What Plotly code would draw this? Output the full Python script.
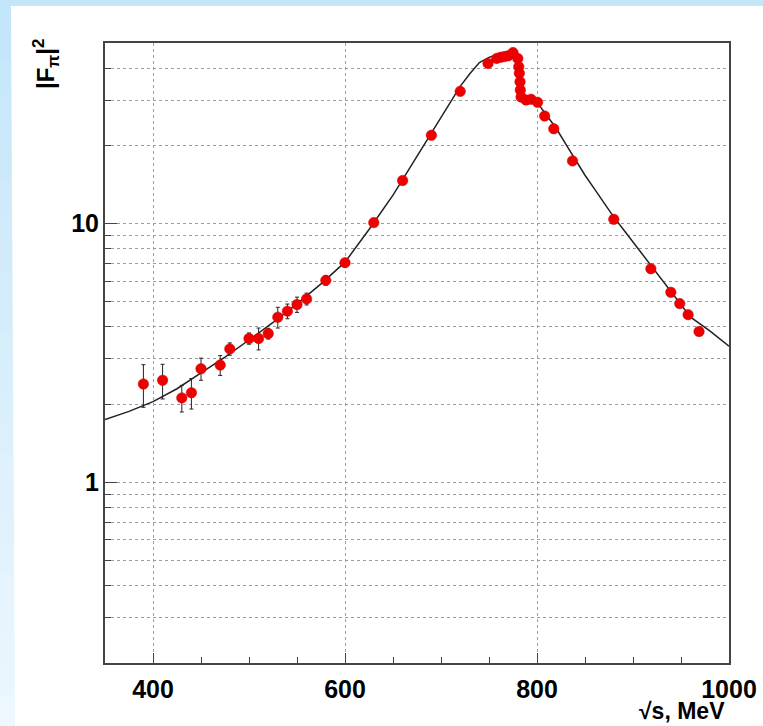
import plotly.graph_objects as go
import numpy as np

# ---- data ----
pt_x = [390, 410, 430, 440, 450, 470, 480, 500, 510, 520, 530, 540, 550, 560, 580,
        600, 630, 660, 690, 720, 749, 758, 762, 766, 770, 775, 780, 781, 781.6, 782.3,
        782.6, 783.4, 788.5, 793.8, 800.6, 808, 817.5, 837, 880, 918.6, 939.4, 948.7,
        957.4, 968.8]
pt_y = [2.40, 2.48, 2.12, 2.22, 2.75, 2.84, 3.28, 3.60, 3.60, 3.76, 4.35, 4.59, 4.87, 5.12, 6.04,
        7.07, 10.1, 14.7, 22.0, 32.5, 41.7, 43.6, 44.0, 44.3, 44.6, 45.9, 43.6, 40.5, 38.2, 35.4,
        32.9, 30.9, 30.1, 30.3, 29.5, 26.1, 23.3, 17.5, 10.4, 6.70, 5.43, 4.91,
        4.45, 3.83]
pt_err = [0.45, 0.38, 0.25, 0.30, 0.27, 0.25, 0.18, 0.18, 0.35, 0.18, 0.40, 0.30, 0.33, 0.27, 0.25,
          0.20, 0.20, 0.25, 0.30, 0.40, 0.40, 0.40, 0.40, 0.40, 0.40, 0.40, 0.40, 0.40, 0.40, 0.40,
          0.40, 0.40, 0.30, 0.30, 0.30, 0.30, 0.25, 0.20, 0.15, 0.10, 0.10, 0.10,
          0.10, 0.10]

curve_x = [350, 375, 400, 425, 450, 475, 500, 525, 550, 575, 600, 625, 650, 675, 700,
           710, 720, 730, 740, 750, 760, 770, 776, 779, 781, 783, 785, 790, 795, 800,
           810, 820, 830, 840, 850, 860, 870, 880, 890, 900, 920, 940, 960, 980, 1000]
curve_y = [1.75, 1.88, 2.05, 2.30, 2.65, 3.05, 3.55, 4.15, 4.90, 5.85, 7.10, 9.50, 12.9, 18.2, 25.7,
           29.5, 34.0, 38.0, 42.0, 44.0, 45.3, 45.8, 46.0, 45.0, 41.0, 35.0, 31.5, 30.8, 30.3, 29.5,
           26.3, 23.4, 20.3, 17.7, 15.4, 13.6, 12.0, 10.6, 9.5, 8.5, 6.75, 5.45, 4.35, 3.85, 3.36]

y_labels = [1, 10]
y_grid = [0.2, 0.3, 0.4, 0.5, 0.6, 0.7, 0.8, 0.9, 1, 2, 3, 4, 5, 6, 7, 8, 9, 10, 20, 30, 40, 50]

# ---- geometry ----
W, H = 763, 726
L, R, T, B = 105, 729, 43, 663
pw, ph = R - L, B - T


def px2x(px):
    return (px - L) / pw


def py2y(py):
    return (B - py) / ph


fig = go.Figure()

fig.add_trace(go.Scatter(x=curve_x, y=curve_y, mode="lines",
                         line=dict(color="#222222", width=1.5), hoverinfo="skip",
                         showlegend=False))
fig.add_trace(go.Scatter(x=pt_x, y=pt_y, mode="markers",
                         marker=dict(color="#ee0000", size=10.5, line=dict(color="#cc0000", width=0.5)),
                         error_y=dict(type="data", array=pt_err, color="#222222", thickness=1, width=2),
                         showlegend=False))

grid_col = "#9c9c9c"
tick_font = dict(size=25, weight="bold", family="Liberation Sans", color="black")
fig.update_layout(
    width=W, height=H,
    margin=dict(l=L, r=W - R, t=T, b=H - B, pad=0, autoexpand=False),
    paper_bgcolor="white", plot_bgcolor="white",
    font=dict(family="Liberation Sans", color="black"),
    xaxis=dict(range=[350, 1000], tickmode="linear", tick0=400, dtick=200,
               ticks="inside", ticklen=10, tickwidth=1, tickcolor="#444",
               showgrid=True, gridcolor=grid_col, griddash="dot", gridwidth=1,
               minor=dict(dtick=50, tick0=350, ticks="inside", ticklen=6, tickcolor="#444", showgrid=False),
               showline=True, mirror=True, linecolor="#444", linewidth=1.5,
               tickfont=tick_font, ticklabelstandoff=3, zeroline=False, automargin=False),
    yaxis=dict(type="log", range=[np.log10(0.2), np.log10(50)],
               tickmode="array", tickvals=y_grid, showticklabels=False,
               ticks="inside", ticklen=6, tickwidth=1, tickcolor="#444",
               showgrid=True, gridcolor=grid_col, griddash="dot", gridwidth=1,
               showline=True, mirror=True, linecolor="#444", linewidth=1.5, zeroline=False,
               automargin=False),
    yaxis2=dict(type="log", range=[np.log10(0.2), np.log10(50)], overlaying="y", side="left",
                tickmode="array", tickvals=y_labels, ticktext=[str(v) for v in y_labels],
                ticks="inside", ticklen=12, tickwidth=1, tickcolor="#444",
                showgrid=False, showline=False, zeroline=False,
                tickfont=tick_font, ticklabelstandoff=5, automargin=False),
)

# dummy trace to activate yaxis2
fig.add_trace(go.Scatter(x=[None], y=[None], yaxis="y2", showlegend=False, hoverinfo="skip"))

# axis titles
fig.add_annotation(x=px2x(727), y=py2y(711), xref="paper", yref="paper",
                   text="<b>\u221As, MeV</b>", showarrow=False, xanchor="right", yanchor="middle",
                   font=dict(size=23, family="Liberation Sans", color="black"))
fig.add_annotation(x=px2x(46), y=py2y(64), xref="paper", yref="paper",
                   text="<b>|F<sub>\u03c0</sub>|<sup>2</sup></b>", showarrow=False, textangle=-90,
                   xanchor="center", yanchor="middle",
                   font=dict(size=24, family="Liberation Sans", color="black"))

# page decoration: blue band top and left
fig.add_shape(type="rect", xref="paper", yref="paper", x0=px2x(0), x1=px2x(W), y0=py2y(6), y1=py2y(0),
              fillcolor="#c4e6fa", line=dict(width=0), layer="below")
n = 24
c0 = np.array([196, 230, 250])
c1 = np.array([236, 247, 254])
for i in range(n):
    t = i / (n - 1)
    c = (c0 * (1 - t) + c1 * t).astype(int)
    fig.add_shape(type="rect", xref="paper", yref="paper",
                  x0=px2x(0), x1=px2x(11 + 4 * t),
                  y0=py2y(H * (i + 1) / n + 1), y1=py2y(H * i / n),
                  fillcolor=f"rgb({c[0]},{c[1]},{c[2]})", line=dict(width=0), layer="below")

fig.write_html("out.html")
